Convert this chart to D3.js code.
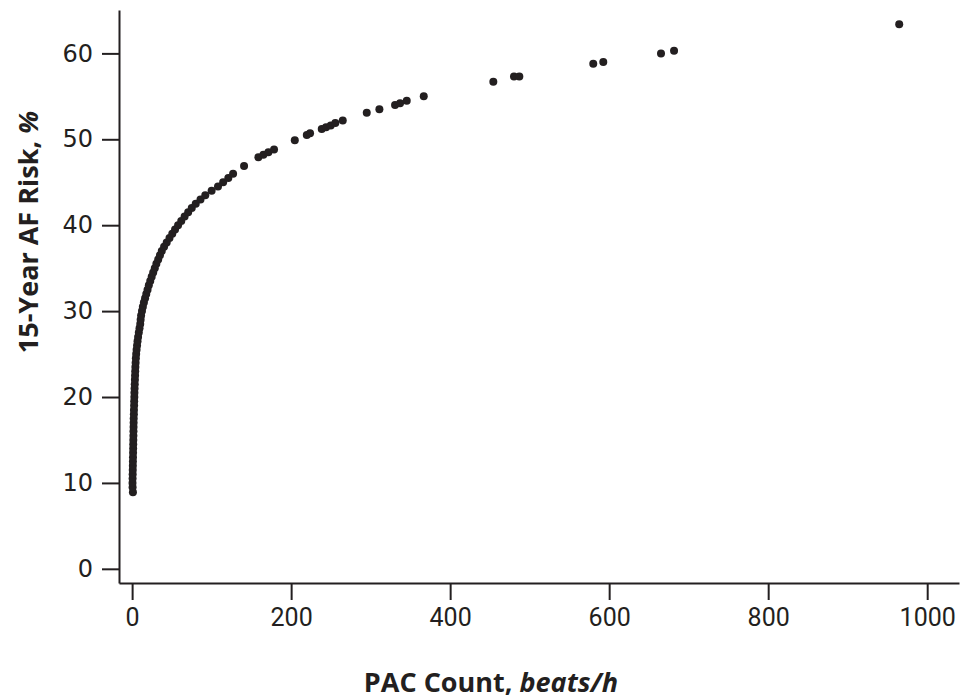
<!DOCTYPE html>
<html lang="en">
  <head>
    <meta charset="utf-8">
    <title>15-Year AF Risk by PAC Count</title>
    <script type="text/javascript" src="https://cdn.jsdelivr.net/npm/d3@7/dist/d3.min.js"></script>
    <style>
      body { margin: 0; background: #fff; }
    </style>
  </head>
  <body>
    <script type="text/javascript">
      var width = 960;
      var height = 700;

      // PAC count (beats/h) and matching 15-year AF risk (%)
      var pacCount = [
        1.0, 0.6, 0.5, 0.6, 0.7, 0.8, 0.9, 1.0, 1.1, 1.2, 1.3, 1.4, 1.5, 1.6, 1.7, 1.8,
        1.9, 2.0, 2.2, 2.3, 2.5, 2.6, 2.8, 2.9, 3.1, 3.3, 3.5, 3.7, 3.9, 4.1, 4.4, 4.7,
        5.1, 5.6, 6.2, 6.8, 7.5, 8.4, 9.3, 10.2, 10.7, 11.3,
        12.4, 13.5, 14.8, 16.3, 17.8, 19.4, 21.0, 22.8, 24.6, 26.5, 28.5, 30.5, 32.8,
        35.0, 37.3, 40.2, 43.5, 47.0, 50.5, 54.0, 57.8, 61.8, 66.0, 70.5, 75.0, 80.0,
        86.0, 92.0, 100.0, 108.0, 114.5, 121.0, 127.0,
        140.8, 158.8, 165.1, 171.4, 178.5, 204.6, 219.7, 223.8, 238.5, 243.9, 249.8,
        255.6, 264.9, 295.1, 311.0, 330.7, 337.0, 345.4, 366.8, 454.3, 480.3, 487.0,
        580.0, 592.6, 665.2, 681.6, 964.8
      ];
      var afRisk = [
        8.9, 9.5, 10.0, 10.5, 11.0, 11.5, 12.0, 12.5, 13.0, 13.5, 14.0, 14.5, 15.0, 15.5, 16.0, 16.5,
        17.0, 17.5, 18.0, 18.5, 19.0, 19.5, 20.0, 20.5, 21.0, 21.5, 22.0, 22.5, 23.0, 23.5, 24.0, 24.5,
        25.0, 25.5, 26.0, 26.5, 27.0, 27.5, 28.0, 28.5, 29.0, 29.5,
        30.0, 30.5, 31.0, 31.5, 32.0, 32.5, 33.0, 33.5, 34.0, 34.5, 35.0, 35.5, 36.0,
        36.5, 37.0, 37.5, 38.0, 38.5, 39.0, 39.5, 40.0, 40.5, 41.0, 41.5, 42.0, 42.5,
        43.0, 43.5, 44.0, 44.5, 45.0, 45.5, 46.0,
        46.9, 47.9, 48.2, 48.5, 48.8, 49.9, 50.5, 50.7, 51.2, 51.4, 51.6,
        51.9, 52.2, 53.1, 53.5, 54.0, 54.2, 54.5, 55.0, 56.7, 57.3, 57.3,
        58.8, 59.0, 60.0, 60.3, 63.4
      ];

      var xTicks = [0, 200, 400, 600, 800, 1000];
      var yTicks = [0, 10, 20, 30, 40, 50, 60];

      var points = pacCount.map(function(d, i) { return [d, afRisk[i]]; });

      var xScale = d3.scaleLinear()
                     .domain([-16.5, 1040])
                     .range([119, 959]);
      var yScale = d3.scaleLinear()
                     .domain([-1.65, 65.05])
                     .range([583, 10]);

      var ink = "#231f20";

      var svg = d3.select("body")
            .append("svg")
            .attr("width", width)
            .attr("height", height);

      // axes
      var xAxis = svg.append("g")
         .attr("transform", "translate(0," + yScale.range()[0] + ")")
         .call(d3.axisBottom(xScale).tickValues(xTicks).tickFormat(d3.format("d"))
                 .tickSize(17).tickSizeOuter(0).tickPadding(8));
      var yAxis = svg.append("g")
         .attr("transform", "translate(" + xScale.range()[0] + ",0)")
         .call(d3.axisLeft(yScale).tickValues(yTicks).tickSize(17).tickSizeOuter(0).tickPadding(9));

      xAxis.selectAll("path, line").attr("stroke", ink).attr("stroke-width", 2);
      yAxis.selectAll("path, line").attr("stroke", ink).attr("stroke-width", 2);
      xAxis.selectAll("text")
         .attr("fill", ink)
         .attr("font-family", "Roboto, sans-serif")
         .attr("font-size", "25px");
      yAxis.selectAll("text")
         .attr("fill", ink)
         .attr("font-family", "'DejaVu Sans', sans-serif")
         .attr("font-size", "24px");

      // points
      svg.append("g")
         .selectAll("circle")
         .data(points)
         .enter()
         .append("circle")
         .attr("cx", function(d) { return xScale(d[0]); })
         .attr("cy", function(d) { return yScale(d[1]); })
         .attr("r", 4)
         .attr("fill", ink);

      // axis titles
      var xTitle = svg.append("text")
         .attr("x", 491)
         .attr("y", 692)
         .attr("text-anchor", "middle")
         .attr("font-family", "'Open Sans', sans-serif")
         .attr("font-weight", "bold")
         .attr("font-size", "27px")
         .attr("fill", ink);
      xTitle.append("tspan").text("PAC Count, ");
      xTitle.append("tspan").attr("font-style", "italic").text("beats/h");

      var yTitle = svg.append("text")
         .attr("transform", "translate(38,232) rotate(-90)")
         .attr("text-anchor", "middle")
         .attr("font-family", "'Open Sans', sans-serif")
         .attr("font-weight", "bold")
         .attr("font-size", "27px")
         .attr("fill", ink);
      yTitle.append("tspan").text("15-Year AF Risk, ");
      yTitle.append("tspan").attr("font-style", "italic").text("%");
    </script>
  </body>
</html>
